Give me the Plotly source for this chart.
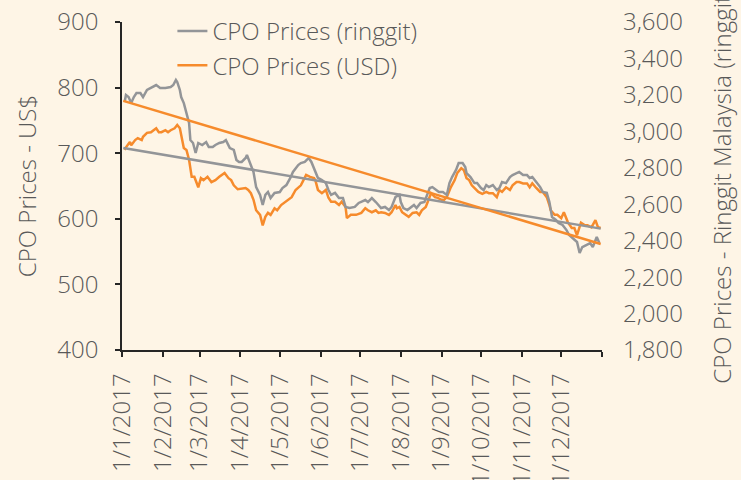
import pandas as pd
import plotly.graph_objects as go

# CPO prices in US$ (left axis)
usd_dates = [
    "2017-01-03", "2017-01-04", "2017-01-07", "2017-01-08", "2017-01-11", "2017-01-13", "2017-01-16",
    "2017-01-17", "2017-01-20", "2017-01-23", "2017-01-27", "2017-01-29", "2017-01-31",
    "2017-02-03", "2017-02-05", "2017-02-07", "2017-02-10", "2017-02-12", "2017-02-14", "2017-02-15",
    "2017-02-17", "2017-02-19", "2017-02-21", "2017-02-23", "2017-02-25", "2017-02-28",
    "2017-03-02", "2017-03-04", "2017-03-07", "2017-03-10", "2017-03-13", "2017-03-16", "2017-03-20",
    "2017-03-23", "2017-03-25", "2017-03-27", "2017-03-30",
    "2017-04-05", "2017-04-07", "2017-04-09", "2017-04-11", "2017-04-13", "2017-04-16", "2017-04-18",
    "2017-04-20", "2017-04-22", "2017-04-24", "2017-04-27", "2017-04-29",
    "2017-05-02", "2017-05-05", "2017-05-07", "2017-05-10", "2017-05-13", "2017-05-17", "2017-05-19",
    "2017-05-21", "2017-05-24", "2017-05-27", "2017-05-28", "2017-05-30",
    "2017-06-02", "2017-06-05", "2017-06-07", "2017-06-09", "2017-06-12", "2017-06-15", "2017-06-17",
    "2017-06-20", "2017-06-21", "2017-06-24", "2017-06-28",
    "2017-07-02", "2017-07-05", "2017-07-07", "2017-07-10", "2017-07-13", "2017-07-15", "2017-07-17",
    "2017-07-20", "2017-07-23", "2017-07-25", "2017-07-28", "2017-07-29", "2017-07-31",
    "2017-08-02", "2017-08-05", "2017-08-07", "2017-08-10", "2017-08-13", "2017-08-15", "2017-08-17",
    "2017-08-20", "2017-08-23", "2017-08-24", "2017-08-27", "2017-08-29",
    "2017-09-01", "2017-09-03", "2017-09-05", "2017-09-08", "2017-09-11", "2017-09-13", "2017-09-16",
    "2017-09-18", "2017-09-20", "2017-09-22", "2017-09-24", "2017-09-27", "2017-09-29",
    "2017-10-02", "2017-10-05", "2017-10-07", "2017-10-10", "2017-10-13", "2017-10-15", "2017-10-17",
    "2017-10-20", "2017-10-23", "2017-10-25", "2017-10-28", "2017-10-30",
    "2017-11-02", "2017-11-05", "2017-11-07", "2017-11-09", "2017-11-12", "2017-11-15", "2017-11-17",
    "2017-11-20", "2017-11-22", "2017-11-23", "2017-11-26", "2017-11-28",
    "2017-12-01", "2017-12-03", "2017-12-06", "2017-12-09", "2017-12-11", "2017-12-13", "2017-12-16",
    "2017-12-19", "2017-12-21", "2017-12-24", "2017-12-27", "2017-12-29", "2017-12-31",
]
usd_prices = [
    705, 709, 717, 712, 720, 723, 720, 725, 731, 732, 738, 732, 732,
    735, 732, 735, 738, 743, 738, 728, 708, 705, 690, 664, 664, 648,
    662, 659, 664, 656, 659, 664, 670, 662, 659, 651, 645,
    647, 644, 639, 629, 613, 606, 590, 603, 609, 606, 616, 613,
    621, 626, 629, 633, 644, 651, 659, 667, 664, 662, 659, 644,
    639, 644, 632, 626, 626, 621, 626, 618, 601, 606, 606,
    609, 616, 613, 610, 613, 609, 610, 609, 606, 610, 621, 616, 618,
    610, 606, 603, 609, 610, 606, 613, 618, 632, 639, 633, 632,
    629, 629, 633, 648, 659, 670, 677, 674, 662, 659, 651, 644, 641,
    638, 641, 639, 639, 633, 644, 641, 648, 644, 651, 656, 656,
    654, 654, 648, 654, 647, 641, 641, 633, 621, 613, 606, 606,
    601, 610, 595, 586, 586, 575, 594, 590, 590, 587, 598, 587, 586,
]

# CPO prices in ringgit (right axis)
myr_dates = [
    "2017-01-03", "2017-01-04", "2017-01-06", "2017-01-08", "2017-01-10", "2017-01-12", "2017-01-15",
    "2017-01-17", "2017-01-20", "2017-01-23", "2017-01-25", "2017-01-27", "2017-01-30",
    "2017-02-03", "2017-02-07", "2017-02-09", "2017-02-11", "2017-02-12", "2017-02-14", "2017-02-15",
    "2017-02-17", "2017-02-19", "2017-02-21", "2017-02-22", "2017-02-24", "2017-02-26", "2017-02-28",
    "2017-03-03", "2017-03-06", "2017-03-08", "2017-03-11", "2017-03-13", "2017-03-16", "2017-03-19",
    "2017-03-21", "2017-03-24", "2017-03-27", "2017-03-29", "2017-03-31",
    "2017-04-02", "2017-04-05", "2017-04-06", "2017-04-08", "2017-04-11", "2017-04-13", "2017-04-16",
    "2017-04-18", "2017-04-20", "2017-04-22", "2017-04-24", "2017-04-27",
    "2017-05-01", "2017-05-03", "2017-05-06", "2017-05-09", "2017-05-11", "2017-05-15", "2017-05-17",
    "2017-05-20", "2017-05-23", "2017-05-25", "2017-05-28", "2017-05-30",
    "2017-06-02", "2017-06-05", "2017-06-07", "2017-06-09", "2017-06-12", "2017-06-15", "2017-06-18",
    "2017-06-20", "2017-06-23", "2017-06-27", "2017-06-30",
    "2017-07-02", "2017-07-05", "2017-07-07", "2017-07-10", "2017-07-13", "2017-07-15", "2017-07-17",
    "2017-07-20", "2017-07-23", "2017-07-25", "2017-07-28", "2017-07-31",
    "2017-08-01", "2017-08-03", "2017-08-06", "2017-08-09", "2017-08-11", "2017-08-13", "2017-08-16",
    "2017-08-19", "2017-08-21", "2017-08-23", "2017-08-25", "2017-08-28", "2017-08-30",
    "2017-09-02", "2017-09-05", "2017-09-07", "2017-09-09", "2017-09-12", "2017-09-14", "2017-09-17",
    "2017-09-19", "2017-09-20", "2017-09-23", "2017-09-26", "2017-09-28",
    "2017-10-01", "2017-10-03", "2017-10-05", "2017-10-07", "2017-10-10", "2017-10-13", "2017-10-15",
    "2017-10-17", "2017-10-20", "2017-10-23", "2017-10-25", "2017-10-28", "2017-10-30",
    "2017-11-02", "2017-11-05", "2017-11-07", "2017-11-09", "2017-11-12", "2017-11-15", "2017-11-17",
    "2017-11-20", "2017-11-22", "2017-11-23", "2017-11-24", "2017-11-27", "2017-11-29",
    "2017-12-02", "2017-12-05", "2017-12-07", "2017-12-09", "2017-12-13", "2017-12-15", "2017-12-17",
    "2017-12-20", "2017-12-23", "2017-12-25", "2017-12-28", "2017-12-30",
]
myr_prices = [
    3161, 3199, 3188, 3155, 3188, 3210, 3210, 3188, 3227, 3238, 3243, 3254, 3238,
    3238, 3243, 3254, 3282, 3271, 3227, 3188, 3155, 3101, 3046, 2952, 2936, 2881, 2936,
    2925, 2941, 2914, 2914, 2925, 2936, 2941, 2952, 2908, 2898, 2843, 2832,
    2832, 2854, 2870, 2832, 2777, 2694, 2651, 2596, 2651, 2667, 2634, 2662,
    2667, 2689, 2705, 2744, 2777, 2815, 2826, 2832, 2854, 2832, 2777, 2744,
    2733, 2716, 2678, 2651, 2662, 2634, 2634, 2585, 2579, 2585, 2607,
    2612, 2623, 2612, 2634, 2612, 2596, 2579, 2585, 2568, 2585, 2640, 2651,
    2612, 2579, 2568, 2585, 2596, 2579, 2607, 2612, 2651, 2689, 2694, 2678, 2667,
    2667, 2651, 2716, 2749, 2788, 2826, 2826, 2804, 2771, 2749, 2716, 2716,
    2689, 2678, 2705, 2694, 2705, 2678, 2689, 2722, 2716, 2749, 2760, 2771, 2777,
    2760, 2760, 2744, 2749, 2722, 2694, 2667, 2662, 2612, 2579, 2530, 2514, 2497,
    2486, 2458, 2431, 2420, 2393, 2332, 2365, 2376, 2387, 2365, 2420, 2387,
]

# trendline end values as drawn in the original chart
trend_dates = ["2017-01-02", "2017-12-31"]
trend_myr = [3167, 2382]   # drawn in orange, right axis
trend_usd = [708, 585]     # drawn in gray, left axis

tick_dates = ["2017-%02d-01" % m for m in range(1, 13)] + ["2018-01-01"]
tick_labels = ["1/1/2017", "1/2/2017", "1/3/2017", "1/4/2017", "1/5/2017", "1/6/2017",
               "1/7/2017", "1/8/2017", "1/9/2017", "1/10/2017", "1/11/2017", "1/12/2017", ""]

GRAY = "#939598"
ORANGE = "#f68b2c"
TEXT = "#595959"
BG = "#fef5e6"

fig = go.Figure()
fig.add_trace(go.Scatter(x=pd.to_datetime(myr_dates), y=myr_prices, name="CPO Prices (ringgit)",
                         mode="lines", line=dict(color=GRAY, width=2.5), yaxis="y2"))
fig.add_trace(go.Scatter(x=pd.to_datetime(usd_dates), y=usd_prices, name="CPO Prices (USD)",
                         mode="lines", line=dict(color=ORANGE, width=2.5)))

# trendlines
fig.add_trace(go.Scatter(x=pd.to_datetime(trend_dates), y=trend_myr, mode="lines",
                         line=dict(color=ORANGE, width=2.5), yaxis="y2",
                         showlegend=False, hoverinfo="skip"))
fig.add_trace(go.Scatter(x=pd.to_datetime(trend_dates), y=trend_usd, mode="lines",
                         line=dict(color=GRAY, width=2.5), showlegend=False, hoverinfo="skip"))

font = dict(family="Open Sans", size=24, color=TEXT, weight=300)

fig.update_layout(
    width=741, height=480,
    margin=dict(l=122, r=139, t=22, b=130, autoexpand=False),
    paper_bgcolor=BG, plot_bgcolor=BG,
    font=font,
    showlegend=True,
    legend=dict(x=0.105, y=1.04, xanchor="left", yanchor="top", bgcolor="rgba(0,0,0,0)",
                font=font, tracegroupgap=0),
    xaxis=dict(type="date", range=["2017-01-01", "2018-01-01"],
               tickvals=tick_dates, ticktext=tick_labels, tickangle=-90,
               showgrid=False, zeroline=False, showline=True, linecolor="#262626", linewidth=1.5,
               ticks="outside", ticklen=5, tickcolor="#262626", tickwidth=1.5,
               ticklabelstandoff=7, tickfont=font),
    yaxis=dict(range=[400, 900], dtick=100, showgrid=False, zeroline=False,
               showline=True, linecolor="#262626", linewidth=1.5,
               ticks="outside", ticklen=5, tickcolor="#262626", tickwidth=1.5,
               ticklabelstandoff=12, tickfont=font,
               title=dict(text="CPO Prices - US$", font=font, standoff=14)),
    yaxis2=dict(range=[1800, 3600], dtick=200, overlaying="y", side="right",
                showgrid=False, zeroline=False, showline=False, tickformat=",",
                ticks="", ticklabelstandoff=20, tickfont=font,
                title=dict(text="CPO Prices - Ringgit Malaysia (ringgit)", font=font, standoff=32)),
)

fig.write_html("out.html", config={"displayModeBar": False},
               post_script="document.body.style.margin='0px';")
